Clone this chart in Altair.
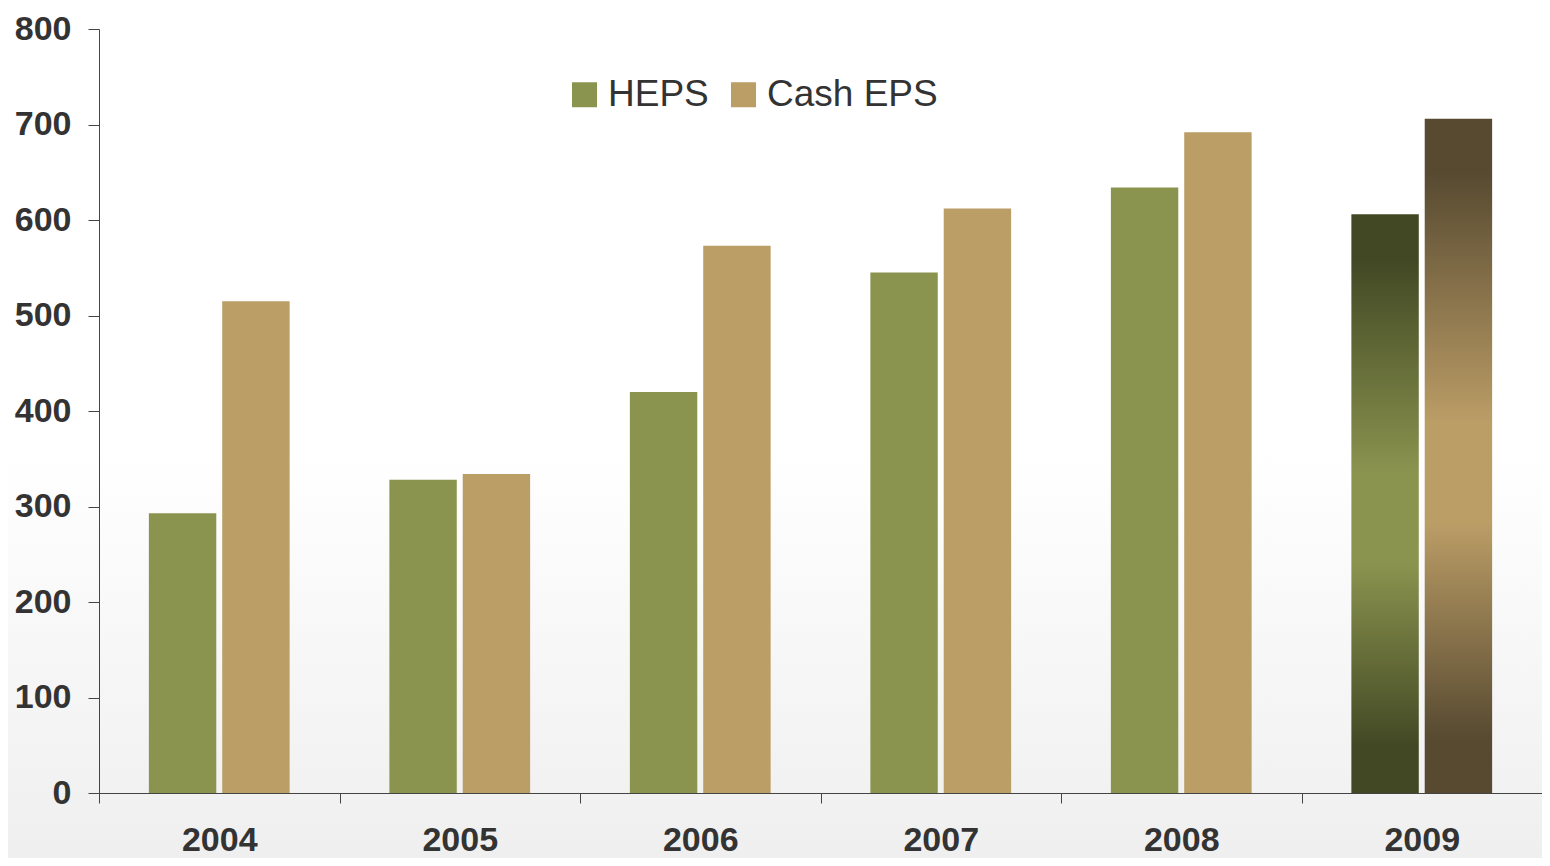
import altair as alt
import pandas as pd

years = ["2004", "2005", "2006", "2007", "2008", "2009"]
series = ["HEPS", "Cash EPS"]
heps = [293, 328, 420, 545, 634, 606]
cash_eps = [515, 334, 573, 612, 692, 706]
colors = ["#8B944F", "#BB9D66"]
y_ticks = [0, 100, 200, 300, 400, 500, 600, 700, 800]

rows = []
for i, yr in enumerate(years):
    rows.append({"year": yr, "series": "HEPS", "value": heps[i]})
    rows.append({"year": yr, "series": "Cash EPS", "value": cash_eps[i]})
df = pd.DataFrame(rows)
df_main = df[df["year"] != "2009"]
df_h09 = df[(df["year"] == "2009") & (df["series"] == "HEPS")]
df_c09 = df[(df["year"] == "2009") & (df["series"] == "Cash EPS")]

TEXT = "#333333"
AXIS = "#444444"
FONT = "Liberation Sans"
W, H = 1443, 764
PAD = {"left": 91, "top": 21, "right": 0, "bottom": 65}

x_enc = alt.X(
    "year:N",
    scale=alt.Scale(domain=years, paddingInner=0, paddingOuter=0),
    axis=alt.Axis(
        title=None, labelAngle=0, labelFontSize=34, labelFontWeight="bold",
        labelColor=TEXT, labelFont=FONT, tickBand="extent", tickSize=10,
        tickColor=AXIS, domainColor=AXIS, labelPadding=20, grid=False,
        zindex=1,
    ),
)
xo_enc = alt.XOffset(
    "series:N",
    scale=alt.Scale(domain=series, paddingInner=0.081, paddingOuter=0.68),
)
y_enc = alt.Y(
    "value:Q",
    scale=alt.Scale(domain=[0, 800], nice=False),
    axis=alt.Axis(
        title=None, values=y_ticks, labelFontSize=34, labelFontWeight="bold",
        labelColor=TEXT, labelFont=FONT, tickSize=11, tickColor=AXIS,
        domainColor=AXIS, labelPadding=17, grid=False, zindex=1,
    ),
)


def grad(dark, light):
    return alt.LinearGradient(
        gradient="linear", x1=0, y1=0, x2=0, y2=1,
        stops=[
            alt.GradientStop(offset=0, color=dark),
            alt.GradientStop(offset=0.08, color=dark),
            alt.GradientStop(offset=0.45, color=light),
            alt.GradientStop(offset=0.6, color=light),
            alt.GradientStop(offset=0.92, color=dark),
            alt.GradientStop(offset=1, color=dark),
        ],
    )


bg_fill = alt.LinearGradient(
    gradient="linear", x1=0, y1=0, x2=0, y2=1,
    stops=[
        alt.GradientStop(offset=0, color="#ffffff"),
        alt.GradientStop(offset=0.52, color="#ffffff"),
        alt.GradientStop(offset=1, color="#efefef"),
    ],
)

background = alt.Chart(pd.DataFrame({"a": [0]})).mark_rect(
    color=bg_fill, clip=False
).encode(
    x=alt.value(-PAD["left"]), x2=alt.value(W),
    y=alt.value(-PAD["top"]), y2=alt.value(H + PAD["bottom"]),
)

base = alt.Chart(df_main).mark_bar().encode(
    x=x_enc,
    xOffset=xo_enc,
    y=y_enc,
    color=alt.Color(
        "series:N",
        scale=alt.Scale(domain=series, range=colors),
        legend=alt.Legend(
            title=None, orient="none", direction="horizontal",
            legendX=467, legendY=47, symbolType="square", symbolSize=625,
            symbolStrokeWidth=0, labelFontSize=37, labelColor=TEXT,
            labelFont=FONT, labelOffset=5, columnPadding=16, padding=0,
            labelLimit=400, zindex=2,
        ),
    ),
)

h09 = alt.Chart(df_h09).mark_bar(color=grad("#424824", "#8B944F")).encode(
    x=x_enc, xOffset=xo_enc, y=y_enc
)
c09 = alt.Chart(df_c09).mark_bar(color=grad("#574A31", "#BB9D66")).encode(
    x=x_enc, xOffset=xo_enc, y=y_enc
)

chart = (
    alt.layer(background, base, h09, c09)
    .properties(
        width=W, height=H,
        autosize=alt.AutoSizeParams(type="none"),
        padding=PAD,
        background="#ffffff",
    )
    .configure_view(stroke=None)
)

chart.save("out.html", embed_options={"renderer": "svg", "actions": False})
